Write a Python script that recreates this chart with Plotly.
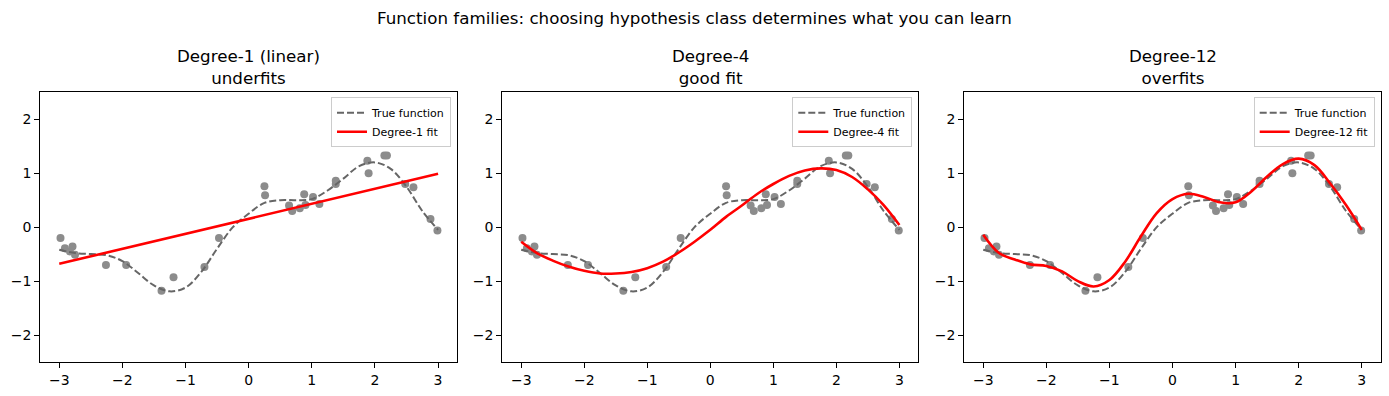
import plotly.graph_objects as go

W, H = 1389, 396

# ---------------- data ----------------
x_data = [-2.98, -2.91, -2.83, -2.79, -2.75, -2.26, -1.94, -1.38, -1.19, -0.70,
          -0.47, 0.25, 0.26, 0.64, 0.69, 0.81, 0.88, 0.90, 1.02, 1.12,
          1.38, 1.38, 1.88, 1.90, 2.15, 2.19, 2.48, 2.61, 2.88, 2.99]
y_data = [-0.20, -0.39, -0.45, -0.36, -0.51, -0.70, -0.70, -1.18, -0.93, -0.74,
          -0.20, 0.76, 0.59, 0.40, 0.30, 0.35, 0.61, 0.41, 0.56, 0.43,
          0.86, 0.80, 1.23, 1.00, 1.33, 1.33, 0.80, 0.74, 0.15, -0.06]

x_curve = [-3.0, -2.75, -2.5, -2.25, -2.0, -1.75, -1.5, -1.25, -1.0, -0.75,
           -0.5, -0.25, 0.0, 0.25, 0.5, 0.75, 1.0, 1.25, 1.5, 1.75,
           2.0, 2.25, 2.5, 2.75, 3.0]
y_true = [-0.42, -0.48, -0.50, -0.52, -0.63, -0.85, -1.08, -1.19, -1.12, -0.83,
          -0.40, 0.00, 0.25, 0.45, 0.50, 0.50, 0.52, 0.68, 0.90, 1.13,
          1.20, 1.08, 0.75, 0.30, -0.05]
x_lin = [-3.0, 3.0]
y_deg1 = [-0.68, 0.99]
y_deg4 = [-0.27, -0.48, -0.62, -0.73, -0.81, -0.86, -0.86, -0.83, -0.76, -0.64,
          -0.47, -0.27, -0.05, 0.19, 0.40, 0.62, 0.80, 0.95, 1.05, 1.09,
          1.06, 0.93, 0.70, 0.41, 0.04]
y_deg12 = [-0.14, -0.48, -0.60, -0.69, -0.72, -0.82, -1.00, -1.10, -0.98, -0.64,
           -0.17, 0.26, 0.52, 0.62, 0.56, 0.46, 0.46, 0.66, 0.94, 1.17,
           1.27, 1.15, 0.81, 0.41, -0.05]

panel_titles = ["Degree-1 (linear)<br>underfits", "Degree-4<br>good fit", "Degree-12<br>overfits"]
fit_names = ["Degree-1 fit", "Degree-4 fit", "Degree-12 fit"]
suptitle = "Function families: choosing hypothesis class determines what you can learn"
tick_vals = [-3, -2, -1, 0, 1, 2, 3]
tick_text = ["\u22123", "\u22122", "\u22121", "0", "1", "2", "3"]
ytick_vals = [-2, -1, 0, 1, 2]
ytick_text = ["\u22122", "\u22121", "0", "1", "2"]

# ---------------- layout (pixel geometry) ----------------
axes_px = [(40.3, 457.0), (502.3, 918.3), (964.3, 1380.7)]
top_px, bot_px = 92.3, 362.0
FONT = "DejaVu Sans"

fits = [(x_lin, y_deg1), (x_curve, y_deg4), (x_curve, y_deg12)]

fig = go.Figure()
layout_axes = {}
annotations = []
for i in range(3):
    n = "" if i == 0 else str(i + 1)
    xa, ya = "x" + n, "y" + n
    leg = "legend" if i == 0 else "legend" + str(i + 1)
    fig.add_trace(go.Scatter(x=x_data, y=y_data, mode="markers", xaxis=xa, yaxis=ya,
                             marker=dict(color="#8c8c8c", size=8, line=dict(width=0)),
                             showlegend=False, hoverinfo="skip"))
    fig.add_trace(go.Scatter(x=x_curve, y=y_true, mode="lines", xaxis=xa, yaxis=ya,
                             line=dict(color="#666666", width=2, dash="7px,3px", shape="spline", smoothing=1.0),
                             name="True function", legend=leg))
    fx, fy = fits[i]
    fig.add_trace(go.Scatter(x=fx, y=fy, mode="lines", xaxis=xa, yaxis=ya,
                             line=dict(color="red", width=2.6, shape="spline", smoothing=1.0),
                             name=fit_names[i], legend=leg))
    l, r = axes_px[i]
    axcommon = dict(showgrid=False, zeroline=False, showline=True, linecolor="black", linewidth=1,
                    mirror=True, ticks="outside", ticklen=5, tickwidth=1, tickcolor="black",
                    tickfont=dict(family=FONT, size=14, color="black"))
    layout_axes["xaxis" + n] = dict(domain=[l / W, r / W], range=[-3.3, 3.3], anchor=ya,
                                    tickvals=tick_vals, ticktext=tick_text, **axcommon)
    layout_axes["yaxis" + n] = dict(domain=[(H - bot_px) / H, (H - top_px) / H], range=[-2.5, 2.5],
                                    anchor=xa, tickvals=ytick_vals, ticktext=ytick_text, **axcommon)
    layout_axes[leg] = dict(x=(r - 6) / W, y=(H - top_px - 5) / H, xanchor="right", yanchor="top",
                            bgcolor="rgba(255,255,255,0.8)", bordercolor="#cccccc", borderwidth=1,
                            font=dict(family=FONT, size=11, color="black"),
                            tracegroupgap=0, itemwidth=30)
    annotations.append(dict(text=panel_titles[i], x=(l + r) / 2 / W, y=(H - top_px + 2) / H,
                            xref="paper", yref="paper", xanchor="center", yanchor="bottom",
                            showarrow=False, font=dict(family=FONT, size=16.7, color="black")))

annotations.append(dict(text=suptitle, x=0.5, y=(H - 6) / H, xref="paper", yref="paper",
                        xanchor="center", yanchor="top", showarrow=False,
                        font=dict(family=FONT, size=16.7, color="black")))

fig.update_layout(width=W, height=H, margin=dict(l=0, r=0, t=0, b=0),
                  paper_bgcolor="white", plot_bgcolor="white",
                  font=dict(family=FONT, color="black"),
                  annotations=annotations, **layout_axes)

fig.write_html("out.html", config={"displayModeBar": False},
               post_script="document.body.style.margin='0';document.body.style.overflow='hidden';")
